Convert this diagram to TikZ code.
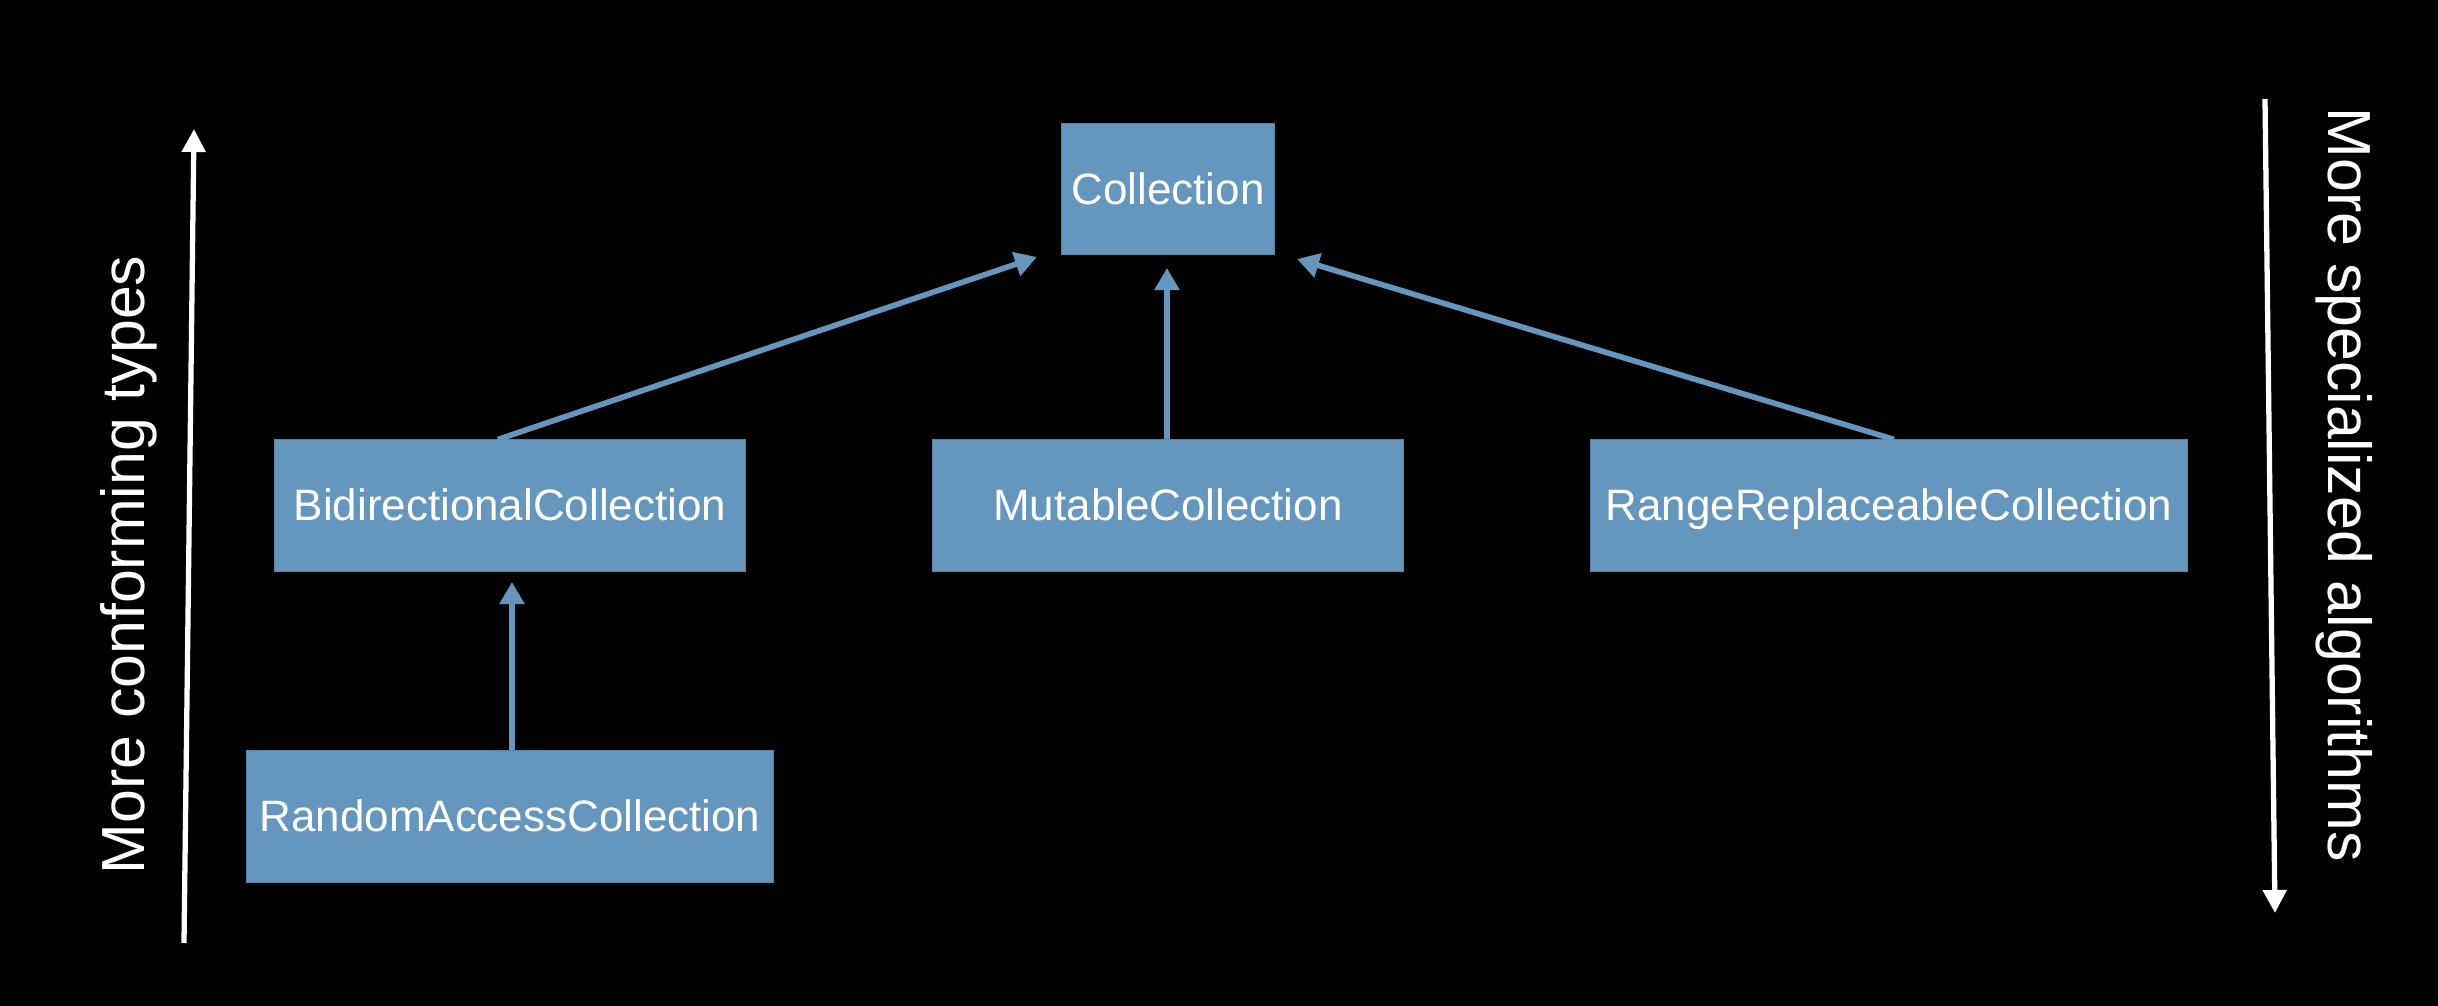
\documentclass[tikz,border=0pt]{standalone}
\usepackage{fontspec}
\setmainfont{Liberation Sans}
\usetikzlibrary{arrows.meta,calc}
\definecolor{boxblue}{RGB}{101,150,190}
\definecolor{boxedge}{RGB}{88,132,168}
\begin{document}
\begin{tikzpicture}[x=0.01cm,y=-0.01cm,
  typebox/.style={rectangle,fill=boxblue,draw=boxedge,line width=0.3pt,
    minimum height=1.31cm,inner sep=0pt,text=white,text height=0.86em,text depth=0em,
    font=\fontsize{12.5pt}{15pt}\selectfont},
  conn/.style={draw=boxblue,line width=1.6pt,-{Triangle[width=0.24cm,length=0.22cm]}},
  sidearrow/.style={draw=white,line width=1.5pt,-{Triangle[width=0.23cm,length=0.23cm]}},
  sidetext/.style={text=white,inner sep=0pt,font=\fontsize{17.3pt}{20pt}\selectfont}]
\fill[black] (0,0) rectangle (2438,1006);
\useasboundingbox (0,0) rectangle (2438,1006);

\node[typebox,minimum width=2.12cm,minimum height=1.30cm] (coll) at (1168,189) {Collection};
\node[typebox,minimum width=4.70cm] (bidir) at (510,505.5) {BidirectionalCollection};
\node[typebox,minimum width=4.70cm] (mut) at (1168,505.5) {MutableCollection};
\node[typebox,minimum width=5.97cm] (range) at (1889,505.5) {RangeReplaceableCollection};
\node[typebox,minimum width=5.26cm] (rand) at (510,816.5) {RandomAccessCollection};

\coordinate (tipA) at (1037,257);
\coordinate (tipB) at (1167,268);
\coordinate (tipC) at (1297,259);
\coordinate (tipD) at (512,582);

\draw[conn] ($(bidir.north)+(-12,0)$) -- (tipA);
\draw[conn] ($(mut.north)+(-1,0)$) -- (tipB);
\draw[conn] ($(range.north)+(5,0)$) -- (tipC);
\draw[conn] ($(rand.north)+(2,0)$) -- (tipD);

\coordinate (lbot) at (184,943);
\coordinate (ltop) at (194,129);
\coordinate (rtop) at (2265,99);
\coordinate (rbot) at (2275,913);
\draw[sidearrow] (lbot) -- (ltop);
\draw[sidearrow] (rtop) -- (rbot);

\node[sidetext,rotate=90,anchor=base west] (ltext) at (144,875) {More conforming types};
\node[sidetext,rotate=-90,anchor=base west] (rtext) at (2328,107) {More specialized algorithms};
\end{tikzpicture}
\end{document}
